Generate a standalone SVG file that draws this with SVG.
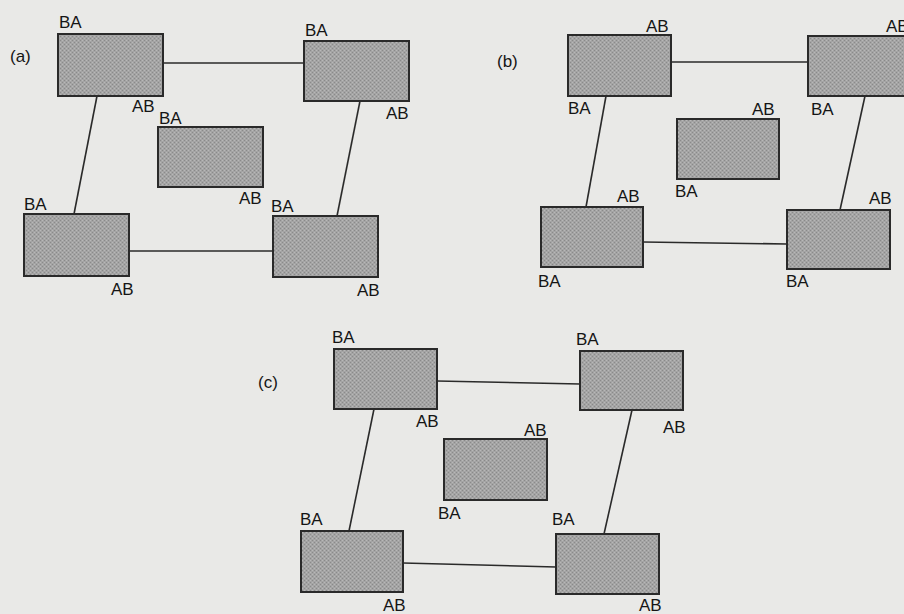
<svg xmlns="http://www.w3.org/2000/svg" width="904" height="614" viewBox="0 0 904 614">
<defs>
<pattern id="dither" width="4" height="4" patternUnits="userSpaceOnUse">
<rect width="4" height="4" fill="#a4a4a4"/>
<rect x="0" y="0" width="1" height="1" fill="#8a8a8a"/>
<rect x="2" y="2" width="1" height="1" fill="#8a8a8a"/>
<rect x="2" y="0" width="1" height="1" fill="#b8b8b8"/>
<rect x="0" y="2" width="1" height="1" fill="#b8b8b8"/>
</pattern>
</defs>
<style>
.bg{fill:#e9e9e7}
.box{fill:url(#dither);stroke:#2a2a2a;stroke-width:2}
.lbl{font-family:"Liberation Sans",Arial,sans-serif;font-size:17px;fill:#151515}
.pl{font-family:"Liberation Sans",Arial,sans-serif;font-size:17px;fill:#151515}
.conn line{stroke:#2a2a2a;stroke-width:1.6}
</style>
<rect class="bg" x="0" y="0" width="904" height="614"/>

<g id="connectors" class="conn">
<line x1="163" y1="63" x2="304" y2="63"/>
<line x1="129" y1="251" x2="273" y2="251"/>
<line x1="97" y1="96" x2="74" y2="214"/>
<line x1="360" y1="101" x2="337" y2="216"/>
<line x1="671" y1="62" x2="808" y2="62"/>
<line x1="643" y1="242" x2="787" y2="244"/>
<line x1="606" y1="96" x2="586" y2="207"/>
<line x1="865" y1="96" x2="840" y2="210"/>
<line x1="437" y1="381" x2="580" y2="384"/>
<line x1="403" y1="563" x2="556" y2="567"/>
<line x1="374" y1="409" x2="349" y2="531"/>
<line x1="632" y1="410" x2="604" y2="534"/>
</g>

<text class="pl" x="10" y="62">(a)</text>
<text class="pl" x="497" y="67">(b)</text>
<text class="pl" x="258" y="388">(c)</text>

<g id="a1"><rect class="box" x="58" y="34" width="105" height="62"/><text class="lbl" x="59" y="28">BA</text><text class="lbl" x="132" y="112">AB</text></g>
<g id="a2"><rect class="box" x="304" y="41" width="105" height="60"/><text class="lbl" x="305" y="36">BA</text><text class="lbl" x="386" y="119">AB</text></g>
<g id="a3"><rect class="box" x="158" y="127" width="105" height="60"/><text class="lbl" x="159" y="124">BA</text><text class="lbl" x="239" y="204">AB</text></g>
<g id="a4"><rect class="box" x="24" y="214" width="105" height="62"/><text class="lbl" x="24" y="210">BA</text><text class="lbl" x="111" y="295">AB</text></g>
<g id="a5"><rect class="box" x="273" y="216" width="105" height="61"/><text class="lbl" x="271" y="212">BA</text><text class="lbl" x="357" y="296">AB</text></g>

<g id="b1"><rect class="box" x="568" y="35" width="103" height="61"/><text class="lbl" x="646" y="32">AB</text><text class="lbl" x="568" y="114">BA</text></g>
<g id="b2"><rect class="box" x="808" y="36" width="104" height="60"/><text class="lbl" x="886" y="32">AB</text><text class="lbl" x="811" y="115">BA</text></g>
<g id="b3"><rect class="box" x="677" y="119" width="102" height="60"/><text class="lbl" x="752" y="115">AB</text><text class="lbl" x="675" y="197">BA</text></g>
<g id="b4"><rect class="box" x="541" y="207" width="102" height="60"/><text class="lbl" x="617" y="202">AB</text><text class="lbl" x="538" y="287">BA</text></g>
<g id="b5"><rect class="box" x="787" y="210" width="103" height="59"/><text class="lbl" x="869" y="204">AB</text><text class="lbl" x="786" y="287">BA</text></g>

<g id="c1"><rect class="box" x="334" y="349" width="103" height="60"/><text class="lbl" x="332" y="343">BA</text><text class="lbl" x="416" y="427">AB</text></g>
<g id="c2"><rect class="box" x="580" y="351" width="103" height="59"/><text class="lbl" x="576" y="345">BA</text><text class="lbl" x="663" y="433">AB</text></g>
<g id="c3"><rect class="box" x="444" y="439" width="103" height="61"/><text class="lbl" x="524" y="436">AB</text><text class="lbl" x="438" y="519">BA</text></g>
<g id="c4"><rect class="box" x="301" y="531" width="102" height="61"/><text class="lbl" x="300" y="525">BA</text><text class="lbl" x="383" y="611">AB</text></g>
<g id="c5"><rect class="box" x="556" y="534" width="103" height="60"/><text class="lbl" x="552" y="525">BA</text><text class="lbl" x="639" y="611">AB</text></g>
</svg>
